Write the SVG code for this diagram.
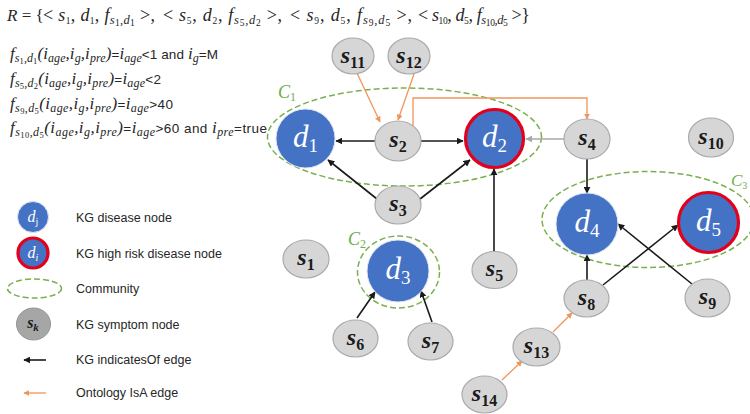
<svg xmlns="http://www.w3.org/2000/svg" width="750" height="414" viewBox="0 0 750 414">
<defs>
<style>
.bg{fill:#fff}
.sym{fill:#d6d6d6;stroke:#aaaaaa;stroke-width:1.2}
.dis{fill:#4472c4;stroke:#dfe6f3;stroke-width:1}
.risk{fill:#4472c4;stroke:#e3001b;stroke-width:3.2}
.comm{fill:none;stroke:#79b04f;stroke-width:1.5;stroke-dasharray:6 3}
.kg{stroke:#1a1a1a;stroke-width:1.6;fill:none;marker-end:url(#ak)}
.gr{stroke:#a8a8a8;stroke-width:1.6;fill:none;marker-end:url(#ag)}
.on{stroke:#f0955a;stroke-width:1.3;fill:none;marker-end:url(#ao)}
.sl{font-family:"Liberation Serif",serif;font-style:italic;font-weight:bold;font-size:24px;fill:#1a1a1a;text-anchor:middle}
.sb{font-size:16px;font-style:normal}
.dl{font-family:"Liberation Serif",serif;font-style:italic;font-size:31px;fill:#fff;text-anchor:middle}
.db{font-size:19px;font-style:normal}
.cl{font-family:"Liberation Serif",serif;font-style:italic;font-size:18px;fill:#70ad47}
.cs{font-size:12px;font-style:normal}
.hd{font-family:"Liberation Serif",serif;font-size:18px;fill:#262626}
.mi{font-style:italic}
.hs{font-size:12.5px;font-style:italic}
.hss{font-size:9.5px;font-style:normal}
.fm{font-family:"Liberation Serif",serif;font-size:17px;fill:#262626;font-style:italic}
.fs{font-size:12px}
.fss{font-size:8.5px;font-style:normal}
.sa{font-family:"Liberation Sans",sans-serif;font-size:13.5px;font-style:normal}
.lg{font-family:"Liberation Sans",sans-serif;font-size:12.5px;fill:#262626}
</style>
<marker id="ak" viewBox="0 0 10 10" refX="9" refY="5" markerWidth="7" markerHeight="7" markerUnits="userSpaceOnUse" orient="auto"><path d="M0,0L10,5L0,10z" fill="#1a1a1a"/></marker>
<marker id="ag" viewBox="0 0 10 10" refX="9" refY="5" markerWidth="7" markerHeight="7" markerUnits="userSpaceOnUse" orient="auto"><path d="M0,0L10,5L0,10z" fill="#a8a8a8"/></marker>
<marker id="ao" viewBox="0 0 10 10" refX="9" refY="5" markerWidth="6" markerHeight="6" markerUnits="userSpaceOnUse" orient="auto"><path d="M0,0L10,5L0,10z" fill="#f0955a"/></marker>
</defs>
<rect class="bg" x="0" y="0" width="750" height="414"/>

<g id="header">
<text class="hd" x="7" y="21" style="font-size:17px"><tspan class="mi">R</tspan> = {</text>
<text class="hd" x="43" y="21" textLength="112" lengthAdjust="spacing">&lt; <tspan class="mi">s</tspan><tspan class="hss" dy="3">1</tspan><tspan dy="-3">, </tspan><tspan class="mi">d</tspan><tspan class="hss" dy="3">1</tspan><tspan dy="-3">, </tspan><tspan class="mi">f</tspan><tspan class="hs" dy="3">s</tspan><tspan class="hss" dy="2">1</tspan><tspan class="hs" dy="-2">,d</tspan><tspan class="hss" dy="2">1</tspan><tspan dy="-5"> &gt;,</tspan></text>
<text class="hd" x="163" y="21" textLength="119" lengthAdjust="spacing">&lt; <tspan class="mi">s</tspan><tspan class="hss" dy="3">5</tspan><tspan dy="-3">, </tspan><tspan class="mi">d</tspan><tspan class="hss" dy="3">2</tspan><tspan dy="-3">, </tspan><tspan class="mi">f</tspan><tspan class="hs" dy="3">s</tspan><tspan class="hss" dy="2">5</tspan><tspan class="hs" dy="-2">,d</tspan><tspan class="hss" dy="2">2</tspan><tspan dy="-5"> &gt;,</tspan></text>
<text class="hd" x="290" y="21" textLength="122" lengthAdjust="spacing">&lt; <tspan class="mi">s</tspan><tspan class="hss" dy="3">9</tspan><tspan dy="-3">, </tspan><tspan class="mi">d</tspan><tspan class="hss" dy="3">5</tspan><tspan dy="-3">, </tspan><tspan class="mi">f</tspan><tspan class="hs" dy="3">s</tspan><tspan class="hss" dy="2">9</tspan><tspan class="hs" dy="-2">,d</tspan><tspan class="hss" dy="2">5</tspan><tspan dy="-5"> &gt;,</tspan></text>
<text class="hd" x="418" y="21" textLength="112" lengthAdjust="spacing">&lt; <tspan class="mi">s</tspan><tspan class="hss" dy="3">10</tspan><tspan dy="-3">, </tspan><tspan class="mi">d</tspan><tspan class="hss" dy="3">5</tspan><tspan dy="-3">, </tspan><tspan class="mi">f</tspan><tspan class="hs" dy="3">s</tspan><tspan class="hss" dy="2">10</tspan><tspan class="hs" dy="-2">,d</tspan><tspan class="hss" dy="2">5</tspan><tspan dy="-5"> &gt;}</tspan></text>
</g>

<g id="formulas">
<text class="fm" x="10" y="59" textLength="208" lengthAdjust="spacing">f<tspan class="fs" dy="3">s</tspan><tspan class="fss" dy="2">1</tspan><tspan class="fs" dy="-2">,d</tspan><tspan class="fss" dy="2">1</tspan><tspan dy="-5">(i</tspan><tspan class="fs" dy="3">age</tspan><tspan dy="-3">,i</tspan><tspan class="fs" dy="3">g</tspan><tspan dy="-3">,i</tspan><tspan class="fs" dy="3">pre</tspan><tspan dy="-3">)</tspan><tspan class="sa">=</tspan>i<tspan class="fs" dy="3">age</tspan><tspan class="sa" dy="-3">&lt;1 and </tspan>i<tspan class="fs" dy="3">g</tspan><tspan class="sa" dy="-3">=M</tspan></text>
<text class="fm" x="10" y="84" textLength="151" lengthAdjust="spacing">f<tspan class="fs" dy="3">s</tspan><tspan class="fss" dy="2">5</tspan><tspan class="fs" dy="-2">,d</tspan><tspan class="fss" dy="2">2</tspan><tspan dy="-5">(i</tspan><tspan class="fs" dy="3">age</tspan><tspan dy="-3">,i</tspan><tspan class="fs" dy="3">g</tspan><tspan dy="-3">,i</tspan><tspan class="fs" dy="3">pre</tspan><tspan dy="-3">)</tspan><tspan class="sa">=</tspan>i<tspan class="fs" dy="3">age</tspan><tspan class="sa" dy="-3">&lt;2</tspan></text>
<text class="fm" x="10" y="109" textLength="163" lengthAdjust="spacing">f<tspan class="fs" dy="3">s</tspan><tspan class="fss" dy="2">9</tspan><tspan class="fs" dy="-2">,d</tspan><tspan class="fss" dy="2">5</tspan><tspan dy="-5">(i</tspan><tspan class="fs" dy="3">age</tspan><tspan dy="-3">,i</tspan><tspan class="fs" dy="3">g</tspan><tspan dy="-3">,i</tspan><tspan class="fs" dy="3">pre</tspan><tspan dy="-3">)</tspan><tspan class="sa">=</tspan>i<tspan class="fs" dy="3">age</tspan><tspan class="sa" dy="-3">&gt;40</tspan></text>
<text class="fm" x="10" y="133" textLength="257" lengthAdjust="spacing">f<tspan class="fs" dy="3">s</tspan><tspan class="fss" dy="2">10</tspan><tspan class="fs" dy="-2">,d</tspan><tspan class="fss" dy="2">5</tspan><tspan dy="-5">(i</tspan><tspan class="fs" dy="3">age</tspan><tspan dy="-3">,i</tspan><tspan class="fs" dy="3">g</tspan><tspan dy="-3">,i</tspan><tspan class="fs" dy="3">pre</tspan><tspan dy="-3">)</tspan><tspan class="sa">=</tspan>i<tspan class="fs" dy="3">age</tspan><tspan class="sa" dy="-3">&gt;60 and </tspan>i<tspan class="fs" dy="3">pre</tspan><tspan class="sa" dy="-3">=true</tspan></text>
</g>

<g id="legend">
<g id="lg-disease"><circle class="dis" cx="33" cy="217" r="15.5"/><text class="dl" x="33" y="222" style="font-size:16px">d<tspan class="db" style="font-size:10px" dy="3">j</tspan></text><text class="lg" x="76" y="222">KG disease node</text></g>
<g id="lg-risk"><circle class="risk" cx="33" cy="253" r="15"/><text class="dl" x="33" y="258" style="font-size:16px">d<tspan class="db" style="font-size:10px;font-style:italic" dy="3">i</tspan></text><text class="lg" x="76" y="258">KG high risk disease node</text></g>
<g id="lg-community"><ellipse class="comm" cx="34.5" cy="288.5" rx="27" ry="9.5"/><text class="lg" x="76" y="293">Community</text></g>
<g id="lg-symptom"><ellipse cx="33.5" cy="324" rx="17" ry="16" fill="#a6a6a6" stroke="#959595"/><text class="sl" x="33" y="328" style="font-size:16px">s<tspan class="sb" style="font-size:11px;font-style:italic" dy="3">k</tspan></text><text class="lg" x="76" y="329">KG symptom node</text></g>
<g id="lg-kg"><line class="kg" x1="46" y1="360" x2="24" y2="360"/><text class="lg" x="76" y="364">KG indicatesOf edge</text></g>
<g id="lg-on"><line class="on" x1="46" y1="393" x2="24" y2="393"/><text class="lg" x="76" y="397">Ontology IsA edge</text></g>
</g>

<g id="communities">
<g id="C1"><ellipse class="comm" cx="404.5" cy="137" rx="137" ry="49"/><text class="cl" x="278" y="98">C<tspan class="cs" dy="3">1</tspan></text></g>
<g id="C2"><ellipse class="comm" cx="398.5" cy="272" rx="41" ry="36"/><text class="cl" x="348" y="245">C<tspan class="cs" dy="3">2</tspan></text></g>
<g id="C3"><ellipse class="comm" cx="648" cy="219.5" rx="106" ry="48"/><text class="cl" x="731" y="186" style="font-size:17px">C<tspan class="cs" style="font-size:10px" dy="3">3</tspan></text></g>
</g>

<g id="connectors">
<line class="kg" x1="375" y1="141" x2="336" y2="141"/>
<line class="kg" x1="421" y1="141" x2="463" y2="141"/>
<line class="kg" x1="377" y1="199" x2="328" y2="160"/>
<line class="kg" x1="420" y1="199" x2="470" y2="160"/>
<line class="on" x1="357" y1="73" x2="380" y2="122"/>
<line class="on" x1="414" y1="74" x2="398" y2="120"/>
<polyline class="on" points="413,126 413,98 587,98 587,119"/>
<line class="gr" x1="564" y1="139" x2="526" y2="139"/>
<line class="kg" x1="494" y1="252" x2="494" y2="169"/>
<line class="kg" x1="587" y1="158" x2="587" y2="193"/>
<line class="kg" x1="587" y1="280" x2="587" y2="255"/>
<line class="kg" x1="603" y1="285" x2="678" y2="225"/>
<line class="kg" x1="692" y1="284" x2="618" y2="224"/>
<line class="kg" x1="357" y1="318" x2="375" y2="292"/>
<line class="kg" x1="432" y1="322" x2="421" y2="291"/>
<line class="on" x1="502" y1="380" x2="522" y2="361"/>
<line class="on" x1="553" y1="332" x2="572" y2="313"/>
</g>

<g id="nodes">
<g id="s11"><ellipse class="sym" cx="353" cy="56" rx="21" ry="18"/><text class="sl" x="353" y="63">s<tspan class="sb" dy="5">11</tspan></text></g>
<g id="s12"><ellipse class="sym" cx="409" cy="56" rx="21" ry="18"/><text class="sl" x="409" y="63">s<tspan class="sb" dy="5">12</tspan></text></g>
<g id="d1"><circle class="dis" cx="305.5" cy="138.5" r="29.5"/><text class="dl" x="305.5" y="147">d<tspan class="db" dy="5">1</tspan></text></g>
<g id="s2"><ellipse class="sym" cx="398" cy="141" rx="23" ry="20"/><text class="sl" x="398" y="147">s<tspan class="sb" dy="5">2</tspan></text></g>
<g id="d2"><circle class="risk" cx="494.5" cy="138.5" r="29"/><text class="dl" x="494.5" y="147">d<tspan class="db" dy="5">2</tspan></text></g>
<g id="s3"><ellipse class="sym" cx="398" cy="205" rx="23" ry="19"/><text class="sl" x="398" y="211">s<tspan class="sb" dy="5">3</tspan></text></g>
<g id="s4"><ellipse class="sym" cx="587" cy="139" rx="23" ry="20"/><text class="sl" x="587" y="145">s<tspan class="sb" dy="5">4</tspan></text></g>
<g id="s10"><ellipse class="sym" cx="711" cy="137.5" rx="22.5" ry="19.5"/><text class="sl" x="711" y="144">s<tspan class="sb" dy="5">10</tspan></text></g>
<g id="d4"><circle class="dis" cx="587" cy="224" r="31"/><text class="dl" x="587" y="232">d<tspan class="db" dy="5">4</tspan></text></g>
<g id="d5"><circle class="risk" cx="708.5" cy="222.5" r="30"/><text class="dl" x="708.5" y="231">d<tspan class="db" dy="5">5</tspan></text></g>
<g id="s1"><ellipse class="sym" cx="306" cy="259" rx="23" ry="19"/><text class="sl" x="306" y="265">s<tspan class="sb" dy="5">1</tspan></text></g>
<g id="d3"><circle class="dis" cx="398" cy="271" r="31"/><text class="dl" x="398" y="279">d<tspan class="db" dy="5">3</tspan></text></g>
<g id="s5"><ellipse class="sym" cx="494.5" cy="270" rx="22.5" ry="18.5"/><text class="sl" x="494.5" y="276">s<tspan class="sb" dy="5">5</tspan></text></g>
<g id="s6"><ellipse class="sym" cx="355.5" cy="338.5" rx="22.5" ry="18.5"/><text class="sl" x="355.5" y="345">s<tspan class="sb" dy="5">6</tspan></text></g>
<g id="s7"><ellipse class="sym" cx="430.5" cy="341.5" rx="22.5" ry="18.5"/><text class="sl" x="430.5" y="348">s<tspan class="sb" dy="5">7</tspan></text></g>
<g id="s8"><ellipse class="sym" cx="586.5" cy="298.5" rx="22.5" ry="18.5"/><text class="sl" x="586.5" y="305">s<tspan class="sb" dy="5">8</tspan></text></g>
<g id="s9"><ellipse class="sym" cx="707.5" cy="298" rx="22.5" ry="19"/><text class="sl" x="707.5" y="304">s<tspan class="sb" dy="5">9</tspan></text></g>
<g id="s13"><ellipse class="sym" cx="536.5" cy="347" rx="23.5" ry="19"/><text class="sl" x="536.5" y="353">s<tspan class="sb" dy="5">13</tspan></text></g>
<g id="s14"><ellipse class="sym" cx="484.5" cy="394.5" rx="22.5" ry="18.5"/><text class="sl" x="484.5" y="401">s<tspan class="sb" dy="5">14</tspan></text></g>
</g>
</svg>
